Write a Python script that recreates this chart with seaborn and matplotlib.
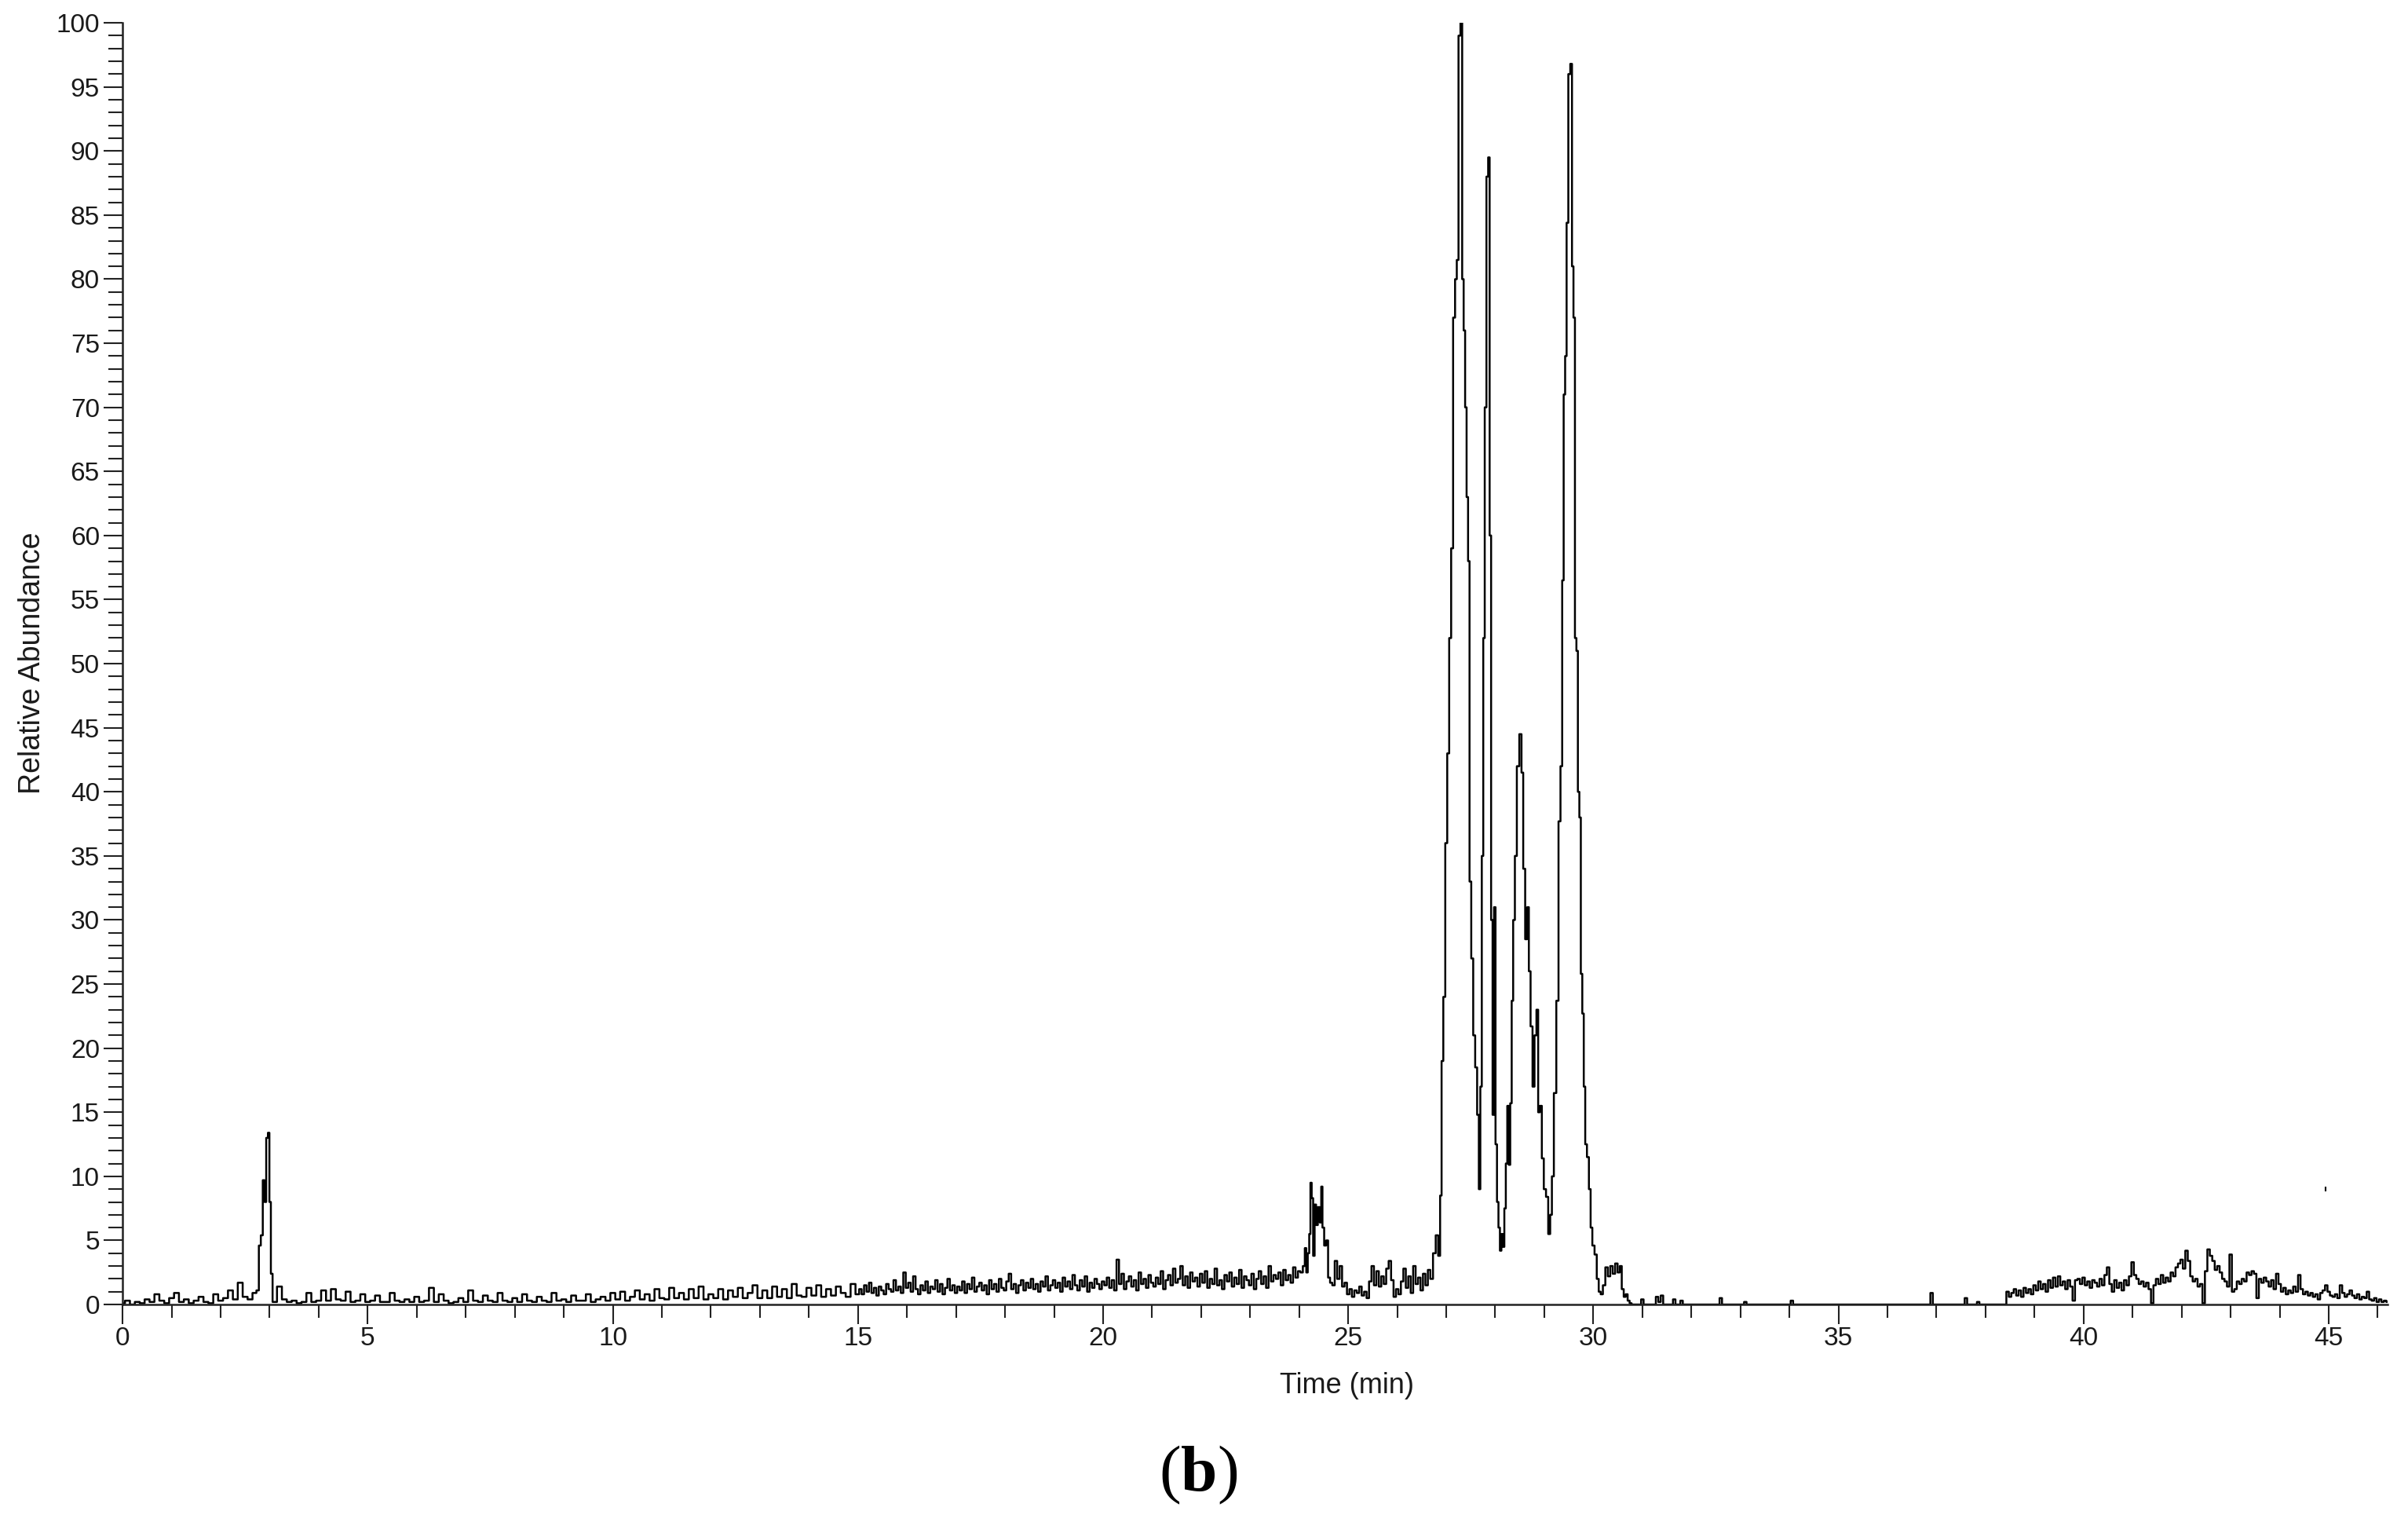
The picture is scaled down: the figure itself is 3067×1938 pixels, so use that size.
import numpy as np
import matplotlib
matplotlib.use("Agg")
import matplotlib.pyplot as plt
from matplotlib.ticker import MultipleLocator
import seaborn as sns

# baseline noise before the 3 min peak, one value every 0.1 min from 0.0
noise_a_start, noise_a_step = 0.0, 0.1
noise_a = [0.1, 0.3, 0.0, 0.2, 0.1, 0.4, 0.2, 0.8, 0.3, 0.1,
           0.5, 0.9, 0.2, 0.4, 0.1, 0.3, 0.6, 0.2, 0.1, 0.8,
           0.3, 0.5, 1.1, 0.4, 1.7, 0.6, 0.4, 0.9]

# small peak near 3 min
peak_a_t = [2.76, 2.80, 2.84, 2.88, 2.91, 2.95, 2.98, 3.01, 3.04, 3.08]
peak_a_v = [1.1, 4.6, 5.4, 9.7, 8.0, 13.0, 13.4, 8.0, 2.4, 0.2]

# baseline 3.1 - 15.0 min, every 0.1 min
noise_b_start, noise_b_step = 3.1, 0.1
noise_b = [0.2, 1.4, 0.4, 0.2, 0.3, 0.1, 0.2, 0.9, 0.2, 0.3,
           1.1, 0.3, 1.2, 0.4, 0.3, 1.0, 0.2, 0.3, 0.8, 0.2,
           0.3, 0.7, 0.2, 0.2, 0.9, 0.3, 0.2, 0.4, 0.2, 0.6,
           0.2, 0.3, 1.3, 0.2, 0.8, 0.3, 0.1, 0.2, 0.5, 0.2,
           1.1, 0.3, 0.2, 0.7, 0.3, 0.2, 0.9, 0.3, 0.2, 0.5,
           0.2, 0.8, 0.3, 0.2, 0.6, 0.3, 0.2, 0.9, 0.3, 0.4,
           0.2, 0.7, 0.3, 0.3, 0.8, 0.2, 0.4, 0.6, 0.3, 0.9,
           0.4, 1.0, 0.3, 0.6, 1.1, 0.4, 0.8, 0.3, 1.2, 0.5,
           0.4, 1.3, 0.5, 0.9, 0.4, 1.2, 0.5, 1.4, 0.4, 0.8,
           0.5, 1.2, 0.4, 1.1, 0.6, 1.3, 0.5, 0.9, 1.5, 0.5,
           1.1, 0.5, 1.4, 0.6, 1.2, 0.5, 1.6, 0.7, 0.6, 1.3,
           0.7, 1.5, 0.6, 1.2, 0.7, 1.4, 0.9, 0.6, 1.6, 0.8]

# baseline 15.05 - 24.10 min, every 0.05 min
noise_c_start, noise_c_step = 15.05, 0.05
noise_c = [1.2, 0.8, 1.5, 1.0, 1.7, 0.9, 1.3, 0.7, 1.4, 1.1,
           0.8, 1.6, 1.2, 1.0, 1.9, 1.1, 1.4, 0.9, 2.5, 1.3,
           1.7, 1.0, 2.2, 1.2, 0.8, 1.5, 1.1, 1.8, 0.9, 1.4,
           1.2, 1.9, 1.0, 1.6, 0.8, 1.3, 2.0, 1.1, 1.5, 0.9,
           1.4, 1.1, 1.8, 0.9, 1.6, 1.2, 2.1, 1.0, 1.4, 1.7,
           1.1, 1.5, 0.8, 1.9, 1.2, 1.6, 1.0, 2.0, 1.3, 1.1,
           1.8, 2.4, 1.2, 1.6, 0.9, 1.5, 1.9, 1.1, 1.7, 1.3,
           2.0, 1.2, 1.6, 1.0, 1.8, 1.4, 2.2, 1.1, 1.5, 1.9,
           1.3, 1.7, 1.0, 2.1, 1.4, 1.8, 1.2, 2.3, 1.5, 1.1,
           1.9, 1.4, 2.2, 1.0, 1.7, 1.3, 2.0, 1.6, 1.2, 1.8,
           1.5, 2.1, 1.3, 1.9, 1.1, 3.5, 1.6, 2.4, 1.2, 1.8,
           2.2, 1.4, 1.9, 1.1, 2.5, 1.6, 2.0, 1.3, 2.3, 1.7,
           1.4, 2.1, 1.6, 2.6, 1.2, 1.9, 2.3, 1.5, 2.8, 1.7,
           2.0, 3.0, 1.5, 2.2, 1.3, 2.5, 1.8, 2.1, 1.4, 2.4,
           1.7, 2.6, 1.3, 2.0, 1.6, 2.8, 1.5, 1.9, 1.2, 2.3,
           1.8, 2.5, 1.4, 2.1, 1.6, 2.7, 1.3, 2.2, 1.9, 1.5,
           2.4, 1.2, 2.0, 2.6, 1.6, 2.2, 1.3, 3.0, 1.8, 2.3,
           2.0, 2.5, 1.5, 2.7, 1.9, 2.3, 1.7, 2.9, 2.1, 2.6,
           2.5, 3.0]

# peak near 24.3 min
peak_b_t = [24.13, 24.16, 24.19, 24.22, 24.24, 24.27, 24.30, 24.33, 24.36,
            24.40, 24.44, 24.46, 24.49, 24.53, 24.57, 24.61, 24.65]
peak_b_v = [4.4, 2.5, 4.0, 5.5, 9.5, 8.3, 3.8, 7.8, 6.2,
            7.6, 6.4, 9.2, 6.0, 4.6, 5.0, 2.1, 1.7]

# baseline 24.70 - 26.70 min, every 0.05 min
noise_d_start, noise_d_step = 24.70, 0.05
noise_d = [1.5, 3.4, 2.0, 3.0, 1.4, 1.7, 0.8, 1.2, 0.6, 1.1,
           0.9, 1.4, 0.7, 1.0, 0.5, 1.8, 3.0, 1.5, 2.6, 1.4,
           2.2, 1.6, 2.8, 3.4, 1.9, 0.6, 1.2, 0.8, 1.8, 2.8,
           1.3, 2.2, 0.9, 3.0, 1.6, 2.1, 1.1, 2.4, 1.5, 2.7,
           2.0]

# main cluster 26.8 - 30.8 min
cluster_t = [26.76, 26.81, 26.86, 26.89, 26.92, 26.96, 27.00, 27.04, 27.08, 27.12,
             27.16, 27.20, 27.23, 27.27, 27.31, 27.34, 27.37, 27.40, 27.43, 27.46,
             27.49, 27.53, 27.57, 27.61, 27.65, 27.68, 27.71, 27.74, 27.77, 27.80,
             27.84, 27.87, 27.90, 27.93, 27.96, 27.99, 28.02, 28.05, 28.08, 28.11,
             28.14, 28.17, 28.20, 28.23, 28.26, 28.29, 28.32, 28.35, 28.38, 28.42,
             28.46, 28.52, 28.55, 28.59, 28.63, 28.67, 28.70, 28.74, 28.78, 28.82,
             28.86, 28.89, 28.93, 28.97, 29.01, 29.06, 29.10, 29.14, 29.17, 29.22,
             29.27, 29.31, 29.35, 29.38, 29.41, 29.44, 29.47, 29.51, 29.55, 29.58,
             29.61, 29.64, 29.67, 29.70, 29.73, 29.76, 29.79, 29.82, 29.85, 29.89,
             29.93, 29.96, 30.00, 30.05, 30.09, 30.13, 30.17, 30.22, 30.27, 30.32,
             30.37, 30.42, 30.47, 30.52, 30.56, 30.60, 30.64, 30.68, 30.72, 30.76]
cluster_v = [4.0, 5.4, 3.8, 8.5, 19.0, 24.0, 36.0, 43.0, 52.0, 59.0,
             77.0, 80.0, 81.5, 99.0, 100.0, 80.0, 76.0, 70.0, 63.0, 58.0,
             33.0, 27.0, 21.0, 18.5, 14.8, 9.0, 17.0, 35.0, 52.0, 70.0,
             88.0, 89.5, 60.0, 30.0, 14.8, 31.0, 12.5, 8.0, 6.0, 4.2,
             5.5, 4.5, 7.5, 11.0, 15.5, 10.9, 15.7, 23.7, 30.0, 35.0,
             42.0, 44.5, 41.5, 34.0, 28.5, 31.0, 26.0, 21.7, 17.0, 21.0,
             23.0, 15.0, 15.5, 11.4, 9.0, 8.4, 5.5, 7.0, 10.0, 16.5,
             23.7, 37.7, 42.0, 56.5, 71.0, 74.0, 84.4, 96.0, 96.8, 81.0,
             77.0, 52.0, 51.0, 40.0, 38.0, 25.8, 22.7, 17.0, 12.5, 11.5,
             9.0, 6.0, 4.6, 3.9, 2.0, 1.0, 0.8, 1.5, 2.9, 2.2,
             3.0, 2.4, 3.2, 2.5, 3.0, 1.2, 0.6, 0.8, 0.3, 0.1]

# nearly flat stretch 30.8 - 38.4 min, with a few single-scan blips
tail_t = [30.80, 30.95, 31.00, 31.05, 31.25, 31.30, 31.35, 31.40, 31.45, 31.60,
          31.65, 31.70, 31.75, 31.80, 31.85, 32.55, 32.60, 32.65, 33.05, 33.10,
          33.15, 34.00, 34.05, 34.10, 36.85, 36.90, 36.95, 37.55, 37.60, 37.65,
          37.80, 37.85, 37.90, 38.40]
tail_v = [0.0, 0.0, 0.4, 0.0, 0.0, 0.6, 0.2, 0.7, 0.0, 0.0,
          0.4, 0.0, 0.0, 0.3, 0.0, 0.0, 0.5, 0.0, 0.0, 0.2,
          0.0, 0.0, 0.3, 0.0, 0.0, 0.9, 0.0, 0.0, 0.5, 0.0,
          0.0, 0.2, 0.0, 0.0]

# broad hump 38.45 - 46.20 min, every 0.05 min
noise_e_start, noise_e_step = 38.45, 0.05
noise_e = [1.0, 0.6, 0.9, 1.2, 0.7, 1.1, 0.6, 1.3, 0.9, 1.2,
           0.8, 1.5, 1.1, 1.8, 1.2, 1.6, 1.0, 1.9, 1.3, 2.1,
           1.4, 2.2, 1.5, 1.8, 1.2, 1.9, 1.4, 0.3, 1.9, 2.0,
           1.6, 2.1, 1.5, 1.8, 1.3, 1.9, 1.7, 1.4, 2.0, 1.5,
           2.3, 2.9, 1.6, 1.0, 1.9, 1.3, 1.7, 1.1, 1.9, 1.5,
           2.2, 3.3, 2.3, 2.0, 1.6, 1.8, 1.4, 1.7, 1.2, 0.1,
           1.5, 2.0, 1.6, 2.3, 1.7, 2.1, 1.8, 2.5, 2.2, 2.9,
           3.2, 3.5, 2.8, 4.2, 3.4, 2.2, 1.8, 2.0, 1.4, 1.6,
           0.1, 2.6, 4.3, 3.8, 3.4, 2.7, 3.0, 2.5, 2.0, 1.8,
           1.4, 3.9, 1.0, 1.2, 1.8, 1.6, 2.0, 1.8, 2.5, 2.3,
           2.6, 2.4, 0.5, 2.0, 1.7, 2.1, 1.8, 1.4, 1.9, 1.2,
           2.4, 1.6, 1.0, 1.3, 0.8, 1.1, 0.9, 1.4, 1.0, 2.3,
           1.2, 0.8, 1.0, 0.7, 0.9, 0.6, 0.8, 0.4, 0.9, 1.1,
           1.5, 1.0, 0.7, 0.6, 0.8, 0.5, 1.5, 0.9, 0.6, 0.8,
           1.1, 0.7, 0.5, 0.8, 0.4, 0.6, 0.5, 1.0, 0.4, 0.3,
           0.5, 0.2, 0.4, 0.2, 0.3, 0.2]

# isolated dot near 45 min
stray_t = [44.93]
stray_v = [9.0]

x_major = list(range(0, 46, 5))
y_major = list(range(0, 101, 5))


def grid(start, step, vals):
    return list(start + step * np.arange(len(vals)))


time = (grid(noise_a_start, noise_a_step, noise_a) + peak_a_t
        + grid(noise_b_start, noise_b_step, noise_b)
        + grid(noise_c_start, noise_c_step, noise_c) + peak_b_t
        + grid(noise_d_start, noise_d_step, noise_d) + cluster_t + tail_t
        + grid(noise_e_start, noise_e_step, noise_e))
abund = (noise_a + peak_a_v + noise_b + noise_c + peak_b_v + noise_d
         + cluster_v + tail_v + noise_e)

sns.set_style("ticks")
plt.rcParams['font.family'] = ['Liberation Sans', 'DejaVu Sans']
plt.rcParams['mathtext.fontset'] = 'custom'
plt.rcParams['mathtext.bf'] = 'Liberation Serif:bold'
plt.rcParams['mathtext.rm'] = 'Liberation Serif'

fig = plt.figure(figsize=(30.67, 19.38), dpi=100)
ax = fig.add_axes([0.0509, 0.1429, 0.9406, 0.8421])

sns.lineplot(x=time, y=abund, ax=ax, color='black', linewidth=1.8,
             drawstyle='steps-mid', sort=False, estimator=None)
ax.plot(stray_t, stray_v, marker='|', color='black', markersize=4,
        markeredgewidth=1.5, linestyle='none')

ax.set_xlim(0, 46.2)
ax.set_ylim(0, 100)
ax.set_xticks(x_major)
ax.set_yticks(y_major)
ax.xaxis.set_minor_locator(MultipleLocator(1))
ax.yaxis.set_minor_locator(MultipleLocator(1))

txt = '#1a1a1a'
ax.tick_params(axis='x', which='major', length=18, width=1.5, pad=2,
               labelsize=24, colors='#222222', labelcolor=txt)
ax.tick_params(axis='x', which='minor', length=12, width=1.5, colors='#222222')
ax.tick_params(axis='y', which='major', length=17, width=1.5, pad=4,
               labelsize=24, colors='#222222', labelcolor=txt)
ax.tick_params(axis='y', which='minor', length=13, width=1.5, colors='#222222')

sns.despine(ax=ax)
for side in ['left', 'bottom']:
    ax.spines[side].set_linewidth(1.8)
    ax.spines[side].set_color('#222222')

ax.set_xlabel('Time (min)', fontsize=26, color=txt)
ax.xaxis.set_label_coords(0.5405, -0.0527)
ax.set_ylabel('Relative Abundance', fontsize=27, color=txt)
ax.yaxis.set_label_coords(-0.0336, 0.5006)

fig.text(0.4975, 0.031, r'($\mathbf{b}$)', fontsize=60, ha='center',
         va='center', family='Liberation Serif', color='black')

fig.savefig('out.png', dpi=100)
